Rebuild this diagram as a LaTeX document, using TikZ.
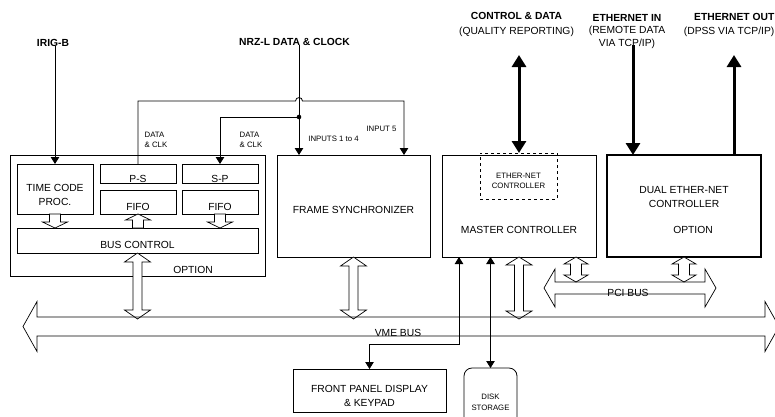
\documentclass[tikz,border=0pt]{standalone}
\usepackage{fontspec}
\setmainfont{Liberation Sans}
\usetikzlibrary{arrows.meta,positioning,calc}
\tikzset{
    %Define standard arrow tip
    >={Triangle[length=7pt,width=8.5pt]},
    blk/.style={
      rectangle,
      draw=black, line width=0.8pt,
      inner sep=0pt, outer sep=0pt},
    txt/.style={
      font=\fontsize{10.3}{13.8}\selectfont,
      align=center, inner sep=0pt},
    small/.style={
      font=\fontsize{7.8}{10.5}\selectfont,
      align=center, inner sep=0pt},
    head/.style={
      font=\bfseries\fontsize{10.3}{13}\selectfont,
      align=center, inner sep=0pt},
    wire/.style={line width=0.8pt},
    fatwire/.style={line width=3pt, -{Triangle[length=12pt,width=14pt]}},
    fatdbl/.style={line width=3pt, {Triangle[length=12pt,width=14pt]}-{Triangle[length=12pt,width=14pt]}},
    hollow/.style={draw=black, line width=0.7pt, fill=white},
}
% hollow arrow, one head: from #1 to tip #2, head half width #3, shaft half width #4, head length #5
\newcommand{\fatone}[5]{%
  \path[hollow] let \p1=(#1), \p2=(#2), \n1={sign(\y2-\y1)} in
    ({\x1-#4pt},\y1) -- ({\x1-#4pt},{\y2-\n1*#5pt}) -- ({\x1-#3pt},{\y2-\n1*#5pt}) -- (\x1,\y2)
    -- ({\x1+#3pt},{\y2-\n1*#5pt}) -- ({\x1+#4pt},{\y2-\n1*#5pt}) -- ({\x1+#4pt},\y1) -- cycle;}
% hollow arrow, two heads
\newcommand{\fatboth}[5]{%
  \path[hollow] let \p1=(#1), \p2=(#2), \n1={sign(\y2-\y1)} in
    (\x1,\y1) -- ({\x1+#3pt},{\y1+\n1*#5pt}) -- ({\x1+#4pt},{\y1+\n1*#5pt})
    -- ({\x1+#4pt},{\y2-\n1*#5pt}) -- ({\x1+#3pt},{\y2-\n1*#5pt}) -- (\x1,\y2)
    -- ({\x1-#3pt},{\y2-\n1*#5pt}) -- ({\x1-#4pt},{\y2-\n1*#5pt})
    -- ({\x1-#4pt},{\y1+\n1*#5pt}) -- ({\x1-#3pt},{\y1+\n1*#5pt}) -- cycle;}
% horizontal bus: left tip, right tip, centre y, head half, shaft half, head length
\newcommand{\bus}[6]{%
  \draw[line width=0.7pt] (#1,#3) -- (#1+#6,#3-#4) -- (#1+#6,#3-#5) -- (#2-#6,#3-#5)
    -- (#2-#6,#3-#4) -- (#2,#3) -- (#2-#6,#3+#4) -- (#2-#6,#3+#5)
    -- (#1+#6,#3+#5) -- (#1+#6,#3+#4) -- cycle;}

\begin{document}
\begin{tikzpicture}[x=1pt, y=-1pt]
    \useasboundingbox (0,0) rectangle (775,416);
    % option card
    \node (option) [blk, minimum width=255, minimum height=121,
          label={[txt, xshift=55.5pt, yshift=-54.5pt]center:OPTION}] at (137.5,215.5) {};
    \node (tcp) [blk, minimum width=76, minimum height=50,
          label={[txt, yshift=-6pt]center:TIME CODE\\PROC.}] at (55,189) {};
    \node (ps) [blk, minimum width=76, minimum height=19,
          label={[txt, yshift=-5pt]center:P-S}] at (138,173.5) {};
    \node (fifoa) [blk, minimum width=76, minimum height=24, below=7pt of ps,
          label={[txt, yshift=-5pt]center:FIFO}] {};
    \node (sp) [blk, minimum width=76, minimum height=19, right=6pt of ps,
          label={[txt, yshift=-5pt]center:S-P}] {};
    \node (fifob) [blk, minimum width=76, minimum height=24, below=7pt of sp,
          label={[txt, yshift=-5pt]center:FIFO}] {};
    \node (busctl) [blk, minimum width=241, minimum height=25,
          label={[txt, yshift=-4.5pt]center:BUS CONTROL}] at (137.5,240.5) {};
    % main boards
    \node (fsync) [blk, minimum width=153, minimum height=102,
          label={[txt, yshift=-4pt]center:FRAME SYNCHRONIZER}] at (353.5,206) {};
    \node (master) [blk, minimum width=154, minimum height=102,
          label={[txt, yshift=-24pt]center:MASTER CONTROLLER}] at (519,206) {};
    \node (ethctl) [blk, dashed, line width=0.7pt, minimum width=77, minimum height=46,
          label={[small, yshift=-5pt]center:ETHER-NET\\CONTROLLER}] at (518.5,176) {};
    \node (dualeth) [blk, line width=1.6pt, minimum width=154, minimum height=102,
          label={[txt, yshift=8.7pt]center:DUAL ETHER-NET\\CONTROLLER},
          label={[txt, xshift=9pt, yshift=-24pt]center:OPTION}] at (684,206) {};
    \node (front) [blk, minimum width=153, minimum height=43,
          label={[txt, yshift=-5.5pt]center:FRONT PANEL DISPLAY\\\& KEYPAD}] at (369.5,390.5) {};
    \node (disk) [blk, rounded corners=8pt, minimum width=53, minimum height=64,
          label={[small, yshift=-2.5pt]center:DISK\\STORAGE}] at (490.5,400) {};
    % signal names
    \node (irig) [head] at (53,42.5) {IRIG-B};
    \node (nrz) [head] at (294.5,41.5) {NRZ-L DATA \& CLOCK};
    \node (dclka) [small, align=left] at (156,140) {DATA\\\& CLK};
    \node (dclkb) [small, align=left] at (251,140) {DATA\\\& CLK};
    \node (in14) [small] at (333.5,138.5) {INPUTS 1 to 4};
    \node (in5) [small] at (381.5,128.5) {INPUT 5};
    \node (ctrldata) [txt, font=\fontsize{10.3}{15}\selectfont] at (516.5,24.5)
          {\textbf{CONTROL \& DATA}\\(QUALITY REPORTING)};
    \node (ethin) [txt, font=\fontsize{10.3}{12.6}\selectfont] at (627,31.5)
          {\textbf{ETHERNET IN}\\(REMOTE DATA\\VIA TCP/IP)};
    \node (ethout) [head, anchor=east] at (774.5,17) {ETHERNET OUT};
    \node (ethoutsub) [txt, anchor=east] at (774.5,32) {(DPSS VIA TCP/IP)};
    % buses
    \coordinate (vmetop) at (0,319);
    \coordinate (pcitop) at (0,282);
    % thin wires
    \coordinate (split) at (299,117);
    \coordinate (hop) at (299,101);
    \coordinate (in5pt) at ($(fsync.north east)+(-26,0)$);
    \coordinate (fpturn) at (459,344);
    \draw[wire, ->] (tcp.north |- irig.south) -- (tcp.north);
    \draw[wire, ->] (split |- nrz.south) -- (split |- fsync.north);
    \draw[wire, ->] (split) -| (sp.north);
    \fill (split) circle (2.3pt);
    \draw[wire, ->] (ps.north) |- ($(hop)+(-3.5,0)$)
          .. controls +(0,-4.5) and +(0,-4.5) .. ($(hop)+(3.5,0)$) -| (in5pt);
    \draw[wire, <->] (front.north) |- (fpturn) -- (fpturn |- master.south);
    \draw[wire, <->] (disk.north) -- (disk.north |- master.south);
    % thick links
    \coordinate (cdtop) at (519,55);
    \coordinate (eintop) at (633,45);
    \coordinate (eouttop) at (734,55);
    \draw[fatdbl] (cdtop) -- (cdtop |- ethctl.north);
    \draw[fatwire] (eintop) -- (eintop |- dualeth.north);
    \draw[fatwire] (eouttop |- dualeth.north) -- (eouttop);
    % hollow links
    \fatone{tcp.south}{tcp.south |- busctl.north}{12.5}{5.5}{6}
    \fatone{busctl.north -| fifoa.south}{fifoa.south}{12.5}{5.5}{6}
    \fatone{fifob.south}{fifob.south |- busctl.north}{12.5}{5.5}{6}
    \fatboth{busctl.south}{busctl.south |- vmetop}{13}{4.5}{9}
    \fatboth{fsync.south}{fsync.south |- vmetop}{13}{4.5}{9}
    \fatboth{master.south}{master.south |- vmetop}{13}{4.5}{8}
    \coordinate (mpci) at ($(master.south east)+(-20,0)$);
    \fatboth{mpci}{mpci |- pcitop}{12}{5.5}{7}
    \fatboth{dualeth.south}{dualeth.south |- pcitop}{12}{5.5}{7}
    \bus{23}{779}{326.5}{25}{9.5}{14}
    \bus{544}{716}{288}{19}{6}{11}
    \node (vmelbl) [txt] at (398,332.5) {VME BUS};
    \node (pcilbl) [txt] at (628,292.5) {PCI BUS};
\end{tikzpicture}
\end{document}
